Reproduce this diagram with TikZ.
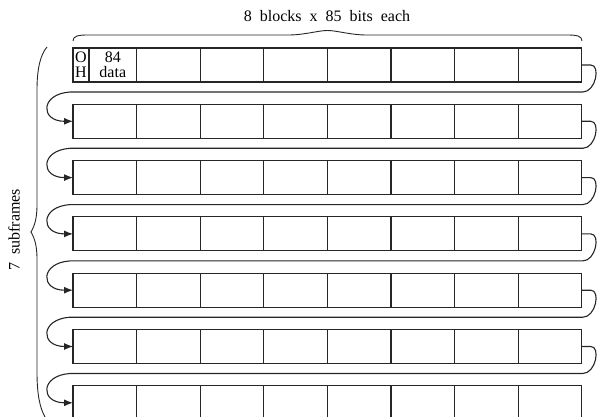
\documentclass[tikz,border=0pt]{standalone}
\usepackage{fontspec}
\setmainfont{Liberation Serif}
\usetikzlibrary{arrows.meta,calc}

\begin{document}
\begin{tikzpicture}[x=1pt, y=-1pt,
    blk/.style={rectangle, draw=black!85, line width=1.1pt, minimum width=63.6pt, minimum height=34pt, inner sep=0pt, outer sep=0pt},
    link/.style={draw=black!85, line width=1.1pt, -{Latex[length=9pt,width=7pt]}},
    brc/.style={draw=black!85, line width=0.9pt},
    lbl/.style={font=\fontsize{16}{15}\selectfont, align=center, inner sep=0pt}
]
\useasboundingbox (0,0) rectangle (597,417);

% Subframes - 7 rows of 8 blocks
\foreach \row in {1,...,7}{
  \foreach \col in {1,...,8}{
    \node[blk] (b-\row-\col) at ({73+63.6*(\col-0.5)}, {65+56.3*(\row-1)}) {};
  }
}

% First block: overhead bit + data
\node[blk, lbl, minimum width=16pt] (oh) at (81,65) {O\\H};
\node[lbl] (data) at ($(oh.east)!0.5!(b-1-1.east)$) {84\\data};

% Row to row links
\foreach \row [evaluate=\row as \nxt using int(\row+1)] in {1,...,6}{
  \draw[link] (b-\row-8.east) -- ++(9,0) .. controls +(10,0) and +(13,0) .. ++(-8,27)
    -- ($(b-\row-1.west)+(-3,27)$) .. controls +(-30,2) and +(-33,0) .. (b-\nxt-1.west);
}

% Braces
\draw[brc] (73,41) .. controls (73,36) and (78,35) .. (88,35) -- (288,35)
  .. controls (305,35) and (318,30.5) .. (327.5,30.5)
  .. controls (337,30.5) and (350,35) .. (367,35) -- (567,35)
  .. controls (577,35) and (582,36) .. (582,41);
\draw[brc] (47,47) .. controls (40,55) and (37,70) .. (37,90) -- (37,205)
  .. controls (37,222) and (33,228) .. (31,232)
  .. controls (33,236) and (37,242) .. (37,259) -- (37,372)
  .. controls (37,395) and (40,408) .. (45,417);

% Labels
\node[lbl] (width) at (327,16) {8\ \ blocks\ \ x\ \ 85\ \ bits\ \ each};
\node[lbl, rotate=90] (depth) at (14,230) {7\ \ subframes};

\end{tikzpicture}
\end{document}
